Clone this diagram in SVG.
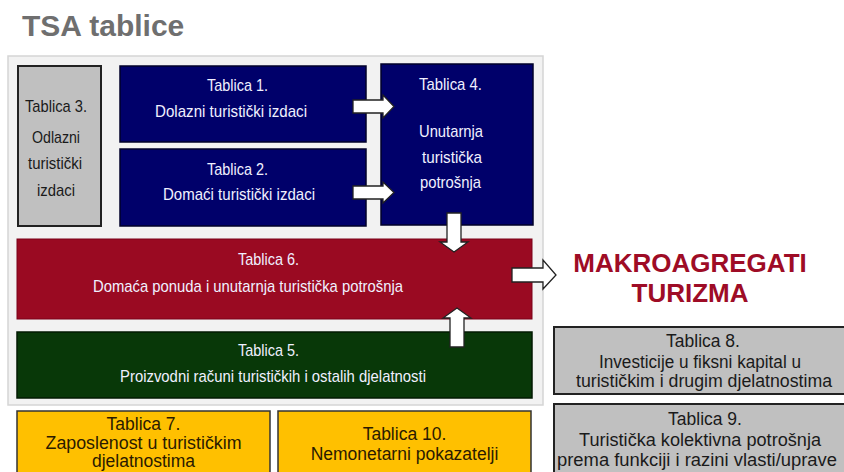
<svg xmlns="http://www.w3.org/2000/svg" width="844" height="472" viewBox="0 0 844 472">
<style>
.t{font-family:"Liberation Sans",Arial,sans-serif}
.w{fill:#f0f0ff;font-size:17px;text-anchor:middle}
.d{fill:#1a1a1a;font-size:17px;text-anchor:middle}
.y{fill:#2a1a00;font-size:17.5px;text-anchor:middle}
.g{fill:#1a1a1a;font-size:17.5px;text-anchor:middle}
.navy{fill:#00006a;stroke:#00002a;stroke-width:1.5}
.grey{fill:#c0c0c0;stroke:#222;stroke-width:2}
.yel{fill:#ffc000;stroke:#333;stroke-width:1.5}
.arr{fill:#fff;stroke:#222;stroke-width:1.3;stroke-linejoin:miter}
</style>
<rect width="844" height="472" fill="#fff"/>
<text class="t" x="22" y="36" font-size="30" font-weight="bold" fill="#6f6f6f">TSA tablice</text>
<rect id="frame" x="8" y="56" width="535" height="349" fill="#f2f2f2" stroke="#d5d5d5" stroke-width="1.5"/>

<g id="tablica3">
<rect class="grey" x="18" y="66" width="83" height="160"/>
<text class="t d" x="56" y="112" textLength="62" lengthAdjust="spacingAndGlyphs">Tablica 3.</text>
<text class="t d" x="56" y="143" textLength="48" lengthAdjust="spacingAndGlyphs">Odlazni</text>
<text class="t d" x="55" y="169" textLength="54" lengthAdjust="spacingAndGlyphs">turistički</text>
<text class="t d" x="56" y="196" textLength="38" lengthAdjust="spacingAndGlyphs">izdaci</text>
</g>

<g id="tablica1">
<rect class="navy" x="120" y="66" width="246" height="76"/>
<text class="t w" x="237.5" y="91" textLength="61" lengthAdjust="spacingAndGlyphs">Tablica 1.</text>
<text class="t w" x="231" y="117" textLength="152" lengthAdjust="spacingAndGlyphs">Dolazni turistički izdaci</text>
</g>

<g id="tablica2">
<rect class="navy" x="120" y="149" width="246" height="77"/>
<text class="t w" x="237.5" y="175" textLength="61" lengthAdjust="spacingAndGlyphs">Tablica 2.</text>
<text class="t w" x="239" y="200" textLength="152" lengthAdjust="spacingAndGlyphs">Domaći turistički izdaci</text>
</g>

<g id="tablica4">
<rect class="navy" x="381" y="64" width="152" height="161"/>
<text class="t w" x="450.5" y="90" textLength="63" lengthAdjust="spacingAndGlyphs">Tablica 4.</text>
<text class="t w" x="451" y="137" textLength="64" lengthAdjust="spacingAndGlyphs">Unutarnja</text>
<text class="t w" x="452" y="163" textLength="60" lengthAdjust="spacingAndGlyphs">turistička</text>
<text class="t w" x="450.5" y="188" textLength="61" lengthAdjust="spacingAndGlyphs">potrošnja</text>
</g>

<g id="tablica6">
<rect x="17" y="239" width="515" height="80" fill="#9a0a22" stroke="#7a0018" stroke-width="1"/>
<text class="t w" x="268.5" y="265" textLength="61" lengthAdjust="spacingAndGlyphs">Tablica 6.</text>
<text class="t w" x="248" y="292" textLength="310" lengthAdjust="spacingAndGlyphs">Domaća ponuda i unutarnja turistička potrošnja</text>
</g>

<g id="tablica5">
<rect x="17" y="332" width="515" height="66" fill="#083808" stroke="#021a02" stroke-width="1.5"/>
<text class="t w" x="268.5" y="356" textLength="61" lengthAdjust="spacingAndGlyphs">Tablica 5.</text>
<text class="t w" x="273" y="382" textLength="306" lengthAdjust="spacingAndGlyphs">Proizvodni računi turističkih i ostalih djelatnosti</text>
</g>

<g id="tablica7">
<rect class="yel" x="17" y="411" width="253" height="66"/>
<text class="t y" x="143.5" y="430">Tablica 7.</text>
<text class="t y" x="143.5" y="448.5" textLength="196" lengthAdjust="spacingAndGlyphs">Zaposlenost u turističkim</text>
<text class="t y" x="143.5" y="467">djelatnostima</text>
</g>

<g id="tablica10">
<rect class="yel" x="278" y="411" width="253" height="66"/>
<text class="t y" x="404.5" y="440">Tablica 10.</text>
<text class="t y" x="404.5" y="460">Nemonetarni pokazatelji</text>
</g>

<g id="makroagregati">
<text class="t" x="690" y="272" font-size="26" font-weight="bold" fill="#9e0c26" text-anchor="middle">MAKROAGREGATI</text>
<text class="t" x="690" y="302" font-size="26" font-weight="bold" fill="#9e0c26" text-anchor="middle">TURIZMA</text>
</g>

<g id="tablica8">
<rect class="grey" x="554" y="327" width="292" height="67"/>
<text class="t g" x="703" y="347">Tablica 8.</text>
<text class="t g" x="700" y="368" textLength="202" lengthAdjust="spacingAndGlyphs">Investicije u fiksni kapital u</text>
<text class="t g" x="704" y="387" textLength="256" lengthAdjust="spacingAndGlyphs">turističkim i drugim djelatnostima</text>
</g>

<g id="tablica9">
<rect class="grey" x="554" y="404" width="292" height="74"/>
<text class="t g" x="705" y="425">Tablica 9.</text>
<text class="t g" x="700" y="445.5" textLength="242" lengthAdjust="spacingAndGlyphs">Turistička kolektivna potrošnja</text>
<text class="t g" x="697" y="466" textLength="280" lengthAdjust="spacingAndGlyphs">prema funkciji i razini vlasti/uprave</text>
</g>

<g id="connectors">
<path class="arr" d="M353,100 H383 V95 L394,106.5 L383,118 V113 H353 Z"/>
<path class="arr" d="M353,186 H383 V182 L394,192.5 L383,203 V199 H353 Z"/>
<path class="arr" d="M447,213 H461 V242 H468 L454,252 L440,242 H447 Z"/>
<path class="arr" d="M450,347 V318 H443 L457,308 L471,318 H464 V347 Z"/>
<path class="arr" d="M512,268 H543 V260 L556,275 L543,289 V282 H512 Z"/>
</g>
</svg>
